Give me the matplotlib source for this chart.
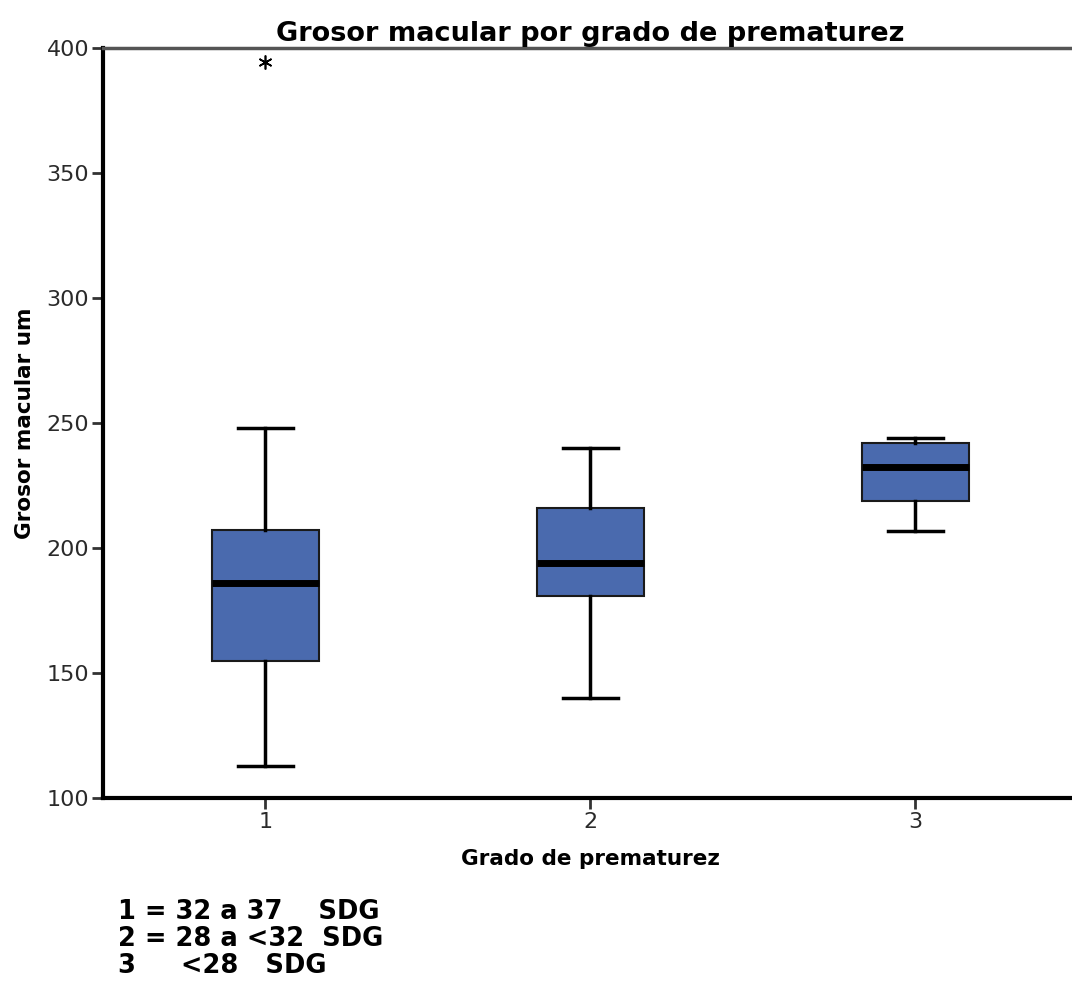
import matplotlib
matplotlib.use("Agg")
import matplotlib.pyplot as plt

# Valores (grosor macular en um)
grupos = ["1", "2", "3"]
bigote_inf = [112.8, 140.0, 206.8]
q1 = [154.8, 180.8, 218.8]
mediana = [186.0, 194.0, 232.4]
q3 = [207.2, 216.0, 242.0]
bigote_sup = [248.0, 240.0, 244.0]
atipicos = [[394.4], [], []]

leyenda = ["1 = 32 a 37    SDG", "2 = 28 a <32  SDG", "3     <28   SDG"]

stats = []
for i, g in enumerate(grupos):
    stats.append({
        "label": g,
        "whislo": bigote_inf[i],
        "q1": q1[i],
        "med": mediana[i],
        "q3": q3[i],
        "whishi": bigote_sup[i],
        "fliers": atipicos[i],
    })

fig = plt.figure(figsize=(10.72, 9.83), dpi=100)
ax = fig.add_axes([103 / 1072, 185 / 983, 975 / 1072, 750 / 983])

ax.bxp(stats, positions=[1, 2, 3], widths=0.33, patch_artist=True,
       boxprops=dict(facecolor="#4a6aae", edgecolor="#1a1a1a", linewidth=1.5),
       medianprops=dict(color="black", linewidth=5),
       whiskerprops=dict(color="black", linewidth=2.5),
       capprops=dict(color="black", linewidth=2.5),
       capwidths=0.17,
       flierprops=dict(marker=(6, 2, 0), markersize=10, markeredgecolor="black",
                       markeredgewidth=1.2, linestyle="none"))

ax.set_xlim(0.5, 3.5)
ax.set_ylim(100, 400)
ax.set_yticks([100, 150, 200, 250, 300, 350, 400])
ax.set_xticks([1, 2, 3])
ax.set_xticklabels(grupos)

ax.spines["right"].set_visible(False)
ax.spines["left"].set_linewidth(3)
ax.spines["bottom"].set_linewidth(3)
ax.spines["top"].set_linewidth(2.5)
ax.spines["top"].set_color("#555555")
ax.tick_params(axis="both", direction="out", length=8, width=2, labelsize=16,
               color="#333333", labelcolor="#2a2a2a", pad=2)

ax.set_title("Grosor macular por grado de prematurez", fontsize=19.5,
             fontweight="bold", x=(590 - 103) / 975, pad=5)
ax.set_ylabel("Grosor macular um", fontsize=15.5, fontweight="bold", labelpad=8)
ax.set_xlabel("Grado de prematurez", fontsize=15.5, fontweight="bold",
              x=(590 - 103) / 975, labelpad=12)

for k, linea in enumerate(leyenda):
    fig.text(118 / 1072, 1 - (912 + 27 * k) / 983, linea, fontsize=18.5,
             fontweight="bold", va="center", ha="left")

fig.savefig("out.png", dpi=100)
